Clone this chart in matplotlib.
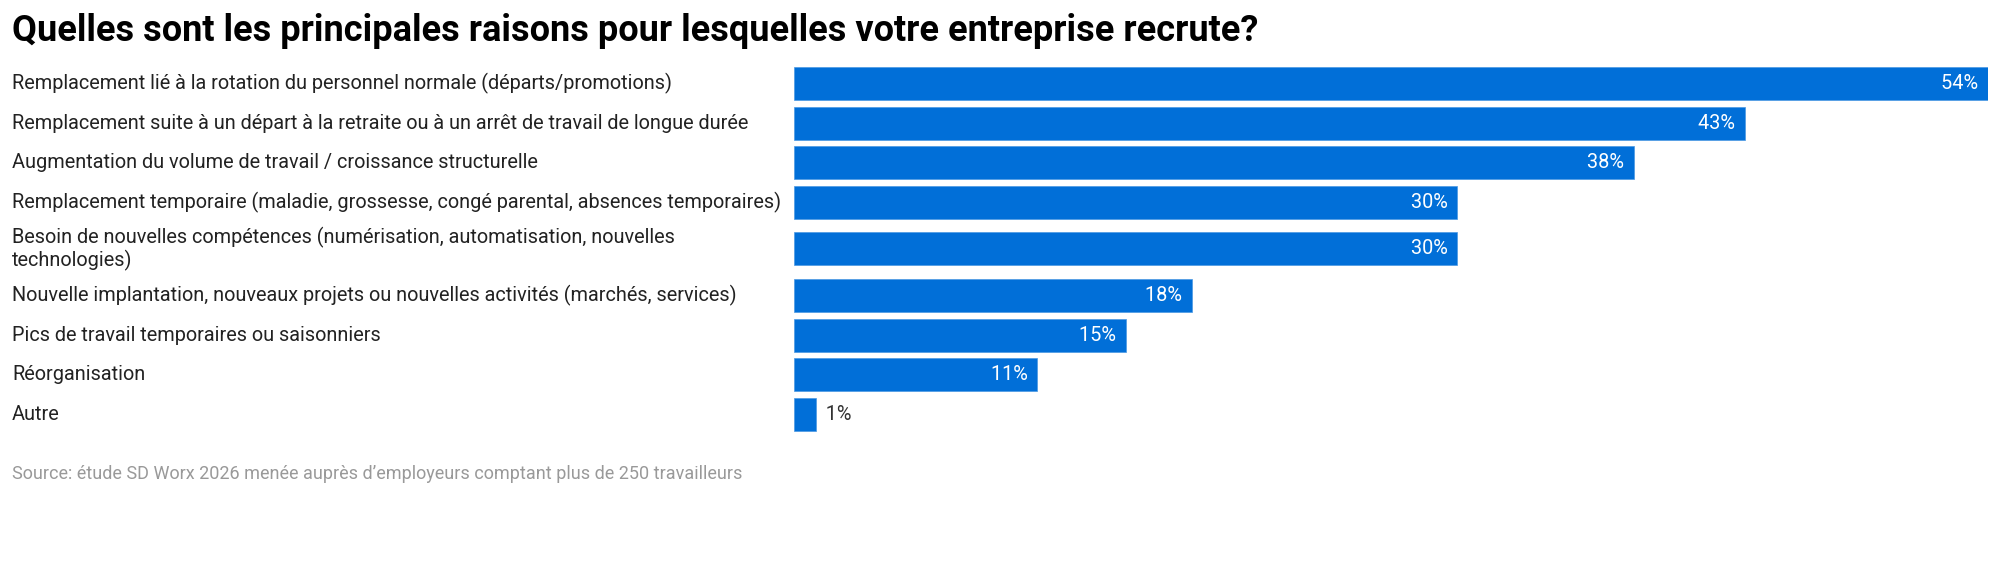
import matplotlib.pyplot as plt

plt.rcParams['font.family'] = ['Roboto', 'DejaVu Sans']

# Data
labels = [
    "Remplacement lié à la rotation du personnel normale (départs/promotions)",
    "Remplacement suite à un départ à la retraite ou à un arrêt de travail de longue durée",
    "Augmentation du volume de travail / croissance structurelle",
    "Remplacement temporaire (maladie, grossesse, congé parental, absences temporaires)",
    "Besoin de nouvelles compétences (numérisation, automatisation, nouvelles\ntechnologies)",
    "Nouvelle implantation, nouveaux projets ou nouvelles activités (marchés, services)",
    "Pics de travail temporaires ou saisonniers",
    "Réorganisation",
    "Autre",
]
values = [54, 43, 38, 30, 30, 18, 15, 11, 1]

title = "Quelles sont les principales raisons pour lesquelles votre entreprise recrute?"
source = "Source: étude SD Worx 2026 menée auprès d’employeurs comptant plus de 250 travailleurs"

bar_color = '#016FD8'
W, H = 2000, 573

fig = plt.figure(figsize=(W / 100, H / 100), dpi=100)
# axes spans full height, y in pixel units
ax = fig.add_axes([794 / W, 0, 1194 / W, 1])
ax.set_ylim(H, 0)
ax.set_xlim(0, max(values))
ax.axis('off')

# row positions (extra room around multi-line labels)
ypos = []
y = 83.5
for i, lab in enumerate(labels):
    if i > 0:
        y += 39.6
        if '\n' in lab or '\n' in labels[i - 1]:
            y += 7
    ypos.append(y)

ax.barh(ypos, values, height=33, color=bar_color, edgecolor='#4a98e3', linewidth=0.5)

for yy, v, lab in zip(ypos, values, labels):
    fig.text(12 / W, 1 - yy / H, lab, ha='left', va='center', fontsize=14.3,
             color='#222222', linespacing=1.1)
    if v >= 5:
        ax.text(v, yy, f"{v}%  ", ha='right', va='center', fontsize=14.3, color='white')
    else:
        ax.text(v, yy, f"  {v}%", ha='left', va='center', fontsize=14.3, color='#333333')

fig.text(12 / W, 1 - 31 / H, title, ha='left', va='center', fontsize=26,
         fontweight='bold', color='#000000')
fig.text(12 / W, 1 - 474 / H, source, ha='left', va='center', fontsize=13,
         color='#999999')

plt.savefig('out.png', dpi=100)
